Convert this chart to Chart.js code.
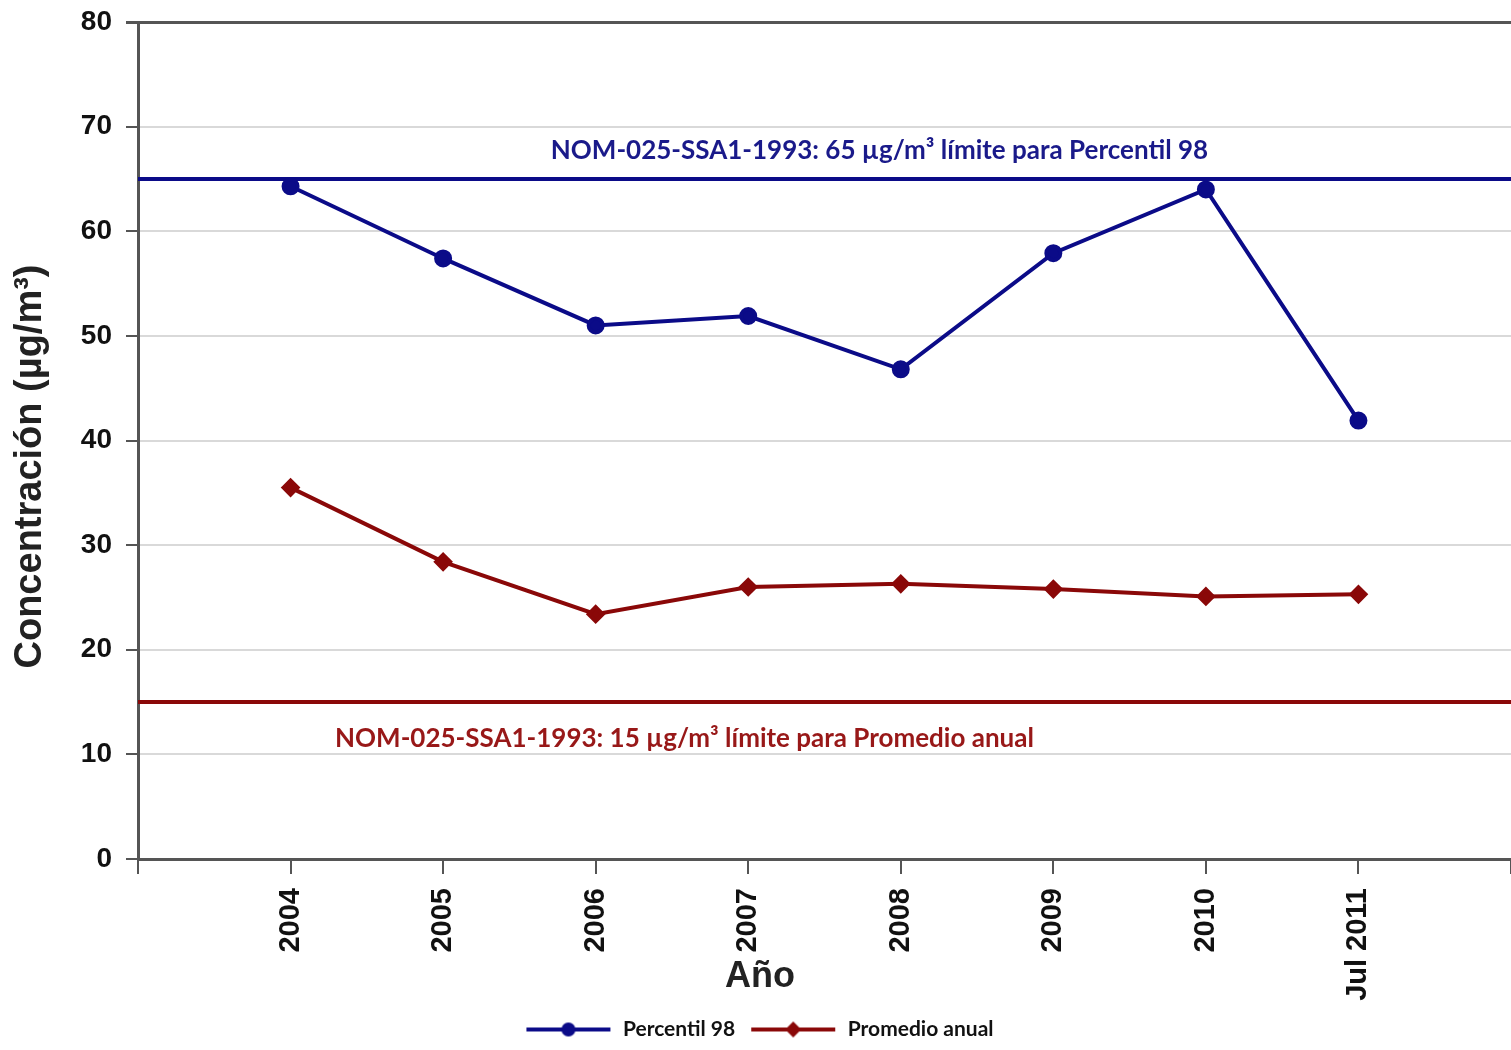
<!DOCTYPE html>
<html>
<head>
<meta charset="utf-8">
<script src="https://cdn.jsdelivr.net/npm/chart.js@4/dist/chart.umd.min.js"></script>
<style>
  html, body { margin: 0; padding: 0; background: #fff; overflow: hidden; }
  #wrap { width: 1511px; height: 1050px; }
</style>
</head>
<body>
<div id="wrap"><canvas id="grafica"></canvas></div>
<script>
// ---- datos ----
var anios = ['2004', '2005', '2006', '2007', '2008', '2009', '2010', 'Jul 2011'];
var percentil98 = [64.3, 57.4, 51.0, 51.9, 46.8, 57.9, 64.0, 41.9];
var promedioAnual = [35.5, 28.4, 23.4, 26.0, 26.3, 25.8, 25.1, 25.3];
var limitePercentil = 65;
var limitePromedio = 15;
var yTicks = [0, 10, 20, 30, 40, 50, 60, 70, 80];

var azul = '#0b0b88';
var rojo = '#8a0808';

// empty slots at both ends so the points sit one step in from the axes
var etiquetas = [''].concat(anios, ['']);
function rellenar(arr) { return [null].concat(arr, [null]); }
function constante(v) { return etiquetas.map(function() { return v; }); }

// legend swatch: line with marker in the middle
function muestra(color, estilo) {
  var c = document.createElement('canvas');
  c.width = 88; c.height = 20;
  var g = c.getContext('2d');
  g.strokeStyle = color; g.lineWidth = 4;
  g.beginPath(); g.moveTo(2, 10); g.lineTo(86, 10); g.stroke();
  g.fillStyle = color;
  g.beginPath();
  if (estilo === 'circle') {
    g.arc(44, 10, 7, 0, Math.PI * 2);
  } else {
    g.moveTo(44, 2); g.lineTo(52, 10); g.lineTo(44, 18); g.lineTo(36, 10); g.closePath();
  }
  g.fill();
  return c;
}

// text labels for the limit lines + axis titles
var textos = {
  id: 'textos',
  afterDatasetsDraw: function(chart) {
    var ctx = chart.ctx, y = chart.scales.y, a = chart.chartArea;
    ctx.save();
    ctx.font = 'bold 26px Lato';
    ctx.textBaseline = 'middle';
    ctx.fillStyle = '#1a1a8a';
    ctx.textAlign = 'center';
    ctx.fillText('NOM-025-SSA1-1993: 65 µg/m³ límite para Percentil 98',
      a.left + (a.right - a.left) * 0.54, y.getPixelForValue(limitePercentil) - 28);
    ctx.fillStyle = '#981818';
    ctx.textAlign = 'left';
    ctx.fillText('NOM-025-SSA1-1993: 15 µg/m³ límite para Promedio anual',
      a.left + (a.right - a.left) * 0.1435, y.getPixelForValue(limitePromedio) + 37);
    ctx.restore();
  },
  afterDraw: function(chart) {
    var ctx = chart.ctx, a = chart.chartArea;
    ctx.save();
    ctx.fillStyle = '#222';
    ctx.font = 'bold 36px "Liberation Sans", Arial';
    ctx.textAlign = 'center';
    ctx.textBaseline = 'middle';
    ctx.fillText('Año', 760, 977);
    ctx.font = 'bold 38px "Liberation Sans", Arial';
    ctx.translate(31, (a.top + a.bottom) / 2 + 26);
    ctx.rotate(-Math.PI / 2);
    ctx.fillText('Concentración (µg/m³)', 0, 0);
    ctx.restore();
  }
};

var ctx = document.getElementById('grafica').getContext('2d');
var chart = new Chart(ctx, {
  type: 'line',
  data: {
    labels: etiquetas,
    datasets: [
      {
        label: 'Percentil 98',
        data: rellenar(percentil98),
        borderColor: azul, backgroundColor: azul,
        borderWidth: 4, pointStyle: 'circle', pointRadius: 7, pointHoverRadius: 7,
        order: 1
      },
      {
        label: 'Promedio anual',
        data: rellenar(promedioAnual),
        borderColor: rojo, backgroundColor: rojo,
        borderWidth: 4, pointStyle: 'rectRot', pointRadius: 7, pointHoverRadius: 7,
        order: 2
      },
      {
        label: 'limite98',
        data: constante(limitePercentil),
        borderColor: azul, borderWidth: 4, pointRadius: 0, order: 3
      },
      {
        label: 'limitePromedio',
        data: constante(limitePromedio),
        borderColor: rojo, borderWidth: 4, pointRadius: 0, order: 4
      }
    ]
  },
  options: {
    responsive: true,
    maintainAspectRatio: false,
    animation: false,
    layout: { autoPadding: false, padding: { top: 22, right: -7, left: 0, bottom: 0 } },
    plugins: {
      tooltip: { enabled: false },
      legend: {
        position: 'bottom',
        labels: {
          usePointStyle: true,
          pointStyleWidth: 88,
          padding: 14,
          color: '#111',
          font: { family: 'Lato', weight: 'bold', size: 21 },
          filter: function(item) { return item.datasetIndex < 2; },
          generateLabels: function(chart) {
            var base = Chart.defaults.plugins.legend.labels.generateLabels(chart);
            base.forEach(function(it) {
              if (it.datasetIndex === 0) it.pointStyle = muestra(azul, 'circle');
              if (it.datasetIndex === 1) it.pointStyle = muestra(rojo, 'diamond');
            });
            return base;
          }
        }
      }
    },
    scales: {
      x: {
        offset: false,
        grid: { drawOnChartArea: false, color: '#555', lineWidth: 2, tickLength: 15 },
        border: { color: '#555', width: 3 },
        ticks: {
          minRotation: 90, maxRotation: 90, autoSkip: false, padding: 14,
          color: '#111',
          font: { family: '"Liberation Sans", Arial', weight: 'bold', size: 29 }
        },
        afterFit: function(s) { s.height = 146; s.paddingLeft = 0; s.paddingRight = 0; }
      },
      y: {
        min: 0, max: 80,
        afterBuildTicks: function(s) { s.ticks = yTicks.map(function(v) { return { value: v }; }); },
        grid: {
          color: function(c) { return c.tick && c.tick.value === 80 ? '#555' : '#d9d9d9'; },
          lineWidth: function(c) { return c.tick && c.tick.value === 80 ? 3 : 2; },
          tickColor: '#555',
          tickLength: 12
        },
        border: { color: '#555', width: 3 },
        ticks: {
          padding: 14,
          color: '#111',
          font: { family: '"Liberation Sans", Arial', weight: 'bold', size: 28 }
        },
        afterFit: function(s) { s.width = 138; s.paddingTop = 0; s.paddingBottom = 0; }
      }
    }
  },
  plugins: [textos]
});
</script>
</body>
</html>
